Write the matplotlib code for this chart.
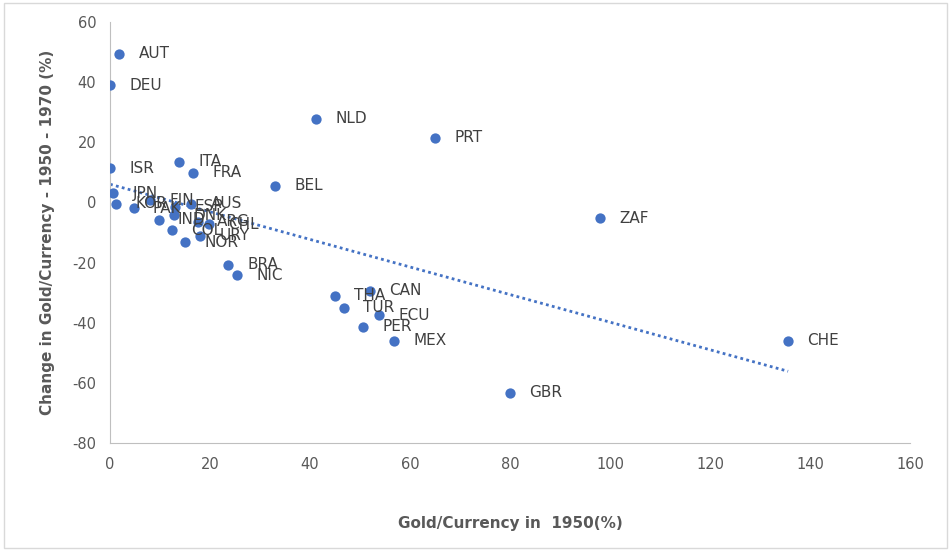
import numpy as np
import matplotlib as mpl; mpl.use("Agg")
import matplotlib.pyplot as plt
from matplotlib.patches import Rectangle

mpl.rcParams.update({"font.family": "DejaVu Sans", "font.size": 10,
                     "axes.unicode_minus": False})

# country codes, gold/currency 1950 (%), change 1950-1970 (%)
codes = ["AUT","DEU","NLD","PRT","ISR","ITA","FRA","BEL","ZAF","CHE","GBR",
         "MEX","PER","ECU","TUR","THA","CAN","BRA","NIC",
         "JPN","KOR","PAK","FIN","ESP","AUS","IND","DNK","ARG","CHL","COL","URY","NOR"]
gold50 = [1.8, 0.0, 41.2, 65.0, 0.0, 13.8, 16.6, 33.0, 98.0, 135.6, 80.0,
          56.8, 50.6, 53.8, 46.8, 45.0, 52.0, 23.6, 25.4,
          0.6, 1.2, 4.7, 8.0, 13.0, 16.2, 9.7, 12.8, 17.5, 19.8, 12.3, 18.0, 15.0]
change = [49.5, 39.0, 27.8, 21.5, 11.3, 13.5, 9.8, 5.5, -5.2, -46.0, -63.3,
          -46.0, -41.3, -37.5, -35.0, -31.0, -29.3, -20.7, -24.2,
          3.0, -0.5, -2.0, 0.8, -1.5, -0.5, -5.8, -4.2, -6.5, -7.2, -9.2, -11.0, -13.3]

fig = plt.figure(figsize=(9.51, 5.5), dpi=100)
fig.patches.append(Rectangle((0.004, 0.004), 0.992, 0.99, transform=fig.transFigure,
                             fill=False, ec="#d9d9d9", lw=1))
ax = fig.add_axes([0.1157, 0.1945, 0.8413, 0.7655])

ax.scatter(gold50, change, s=55, c="#4472C4", zorder=3, lw=0)
for c, x, y in zip(codes, gold50, change):
    ax.annotate(c, (x, y), xytext=(14, 0), textcoords="offset points",
                va="center", ha="left", fontsize=11, color="#404040")

# linear trendline (dotted)
k, b = np.polyfit(gold50, change, 1)
xs = np.array([min(gold50), max(gold50)])
ax.plot(xs, k*xs + b, ls=(0, (1, 1.2)), lw=2, color="#4472C4", zorder=2)

ax.set_xlim(0, 160); ax.set_ylim(-80, 60)
ax.set_xticks(range(0, 161, 20)); ax.set_yticks(range(-80, 61, 20))
ax.tick_params(length=0, labelsize=10.5, colors="#595959", pad=10)
for s in ["top", "right"]:
    ax.spines[s].set_visible(False)
for s in ["left", "bottom"]:
    ax.spines[s].set_color("#bfbfbf")
ax.set_xlabel("Gold/Currency in  1950(%)", fontsize=11, fontweight="bold",
              color="#595959", labelpad=32)
ax.set_ylabel("Change in Gold/Currency - 1950 - 1970 (%)", fontsize=11,
              fontweight="bold", color="#595959", labelpad=12)

fig.savefig("out.png", dpi=100)
